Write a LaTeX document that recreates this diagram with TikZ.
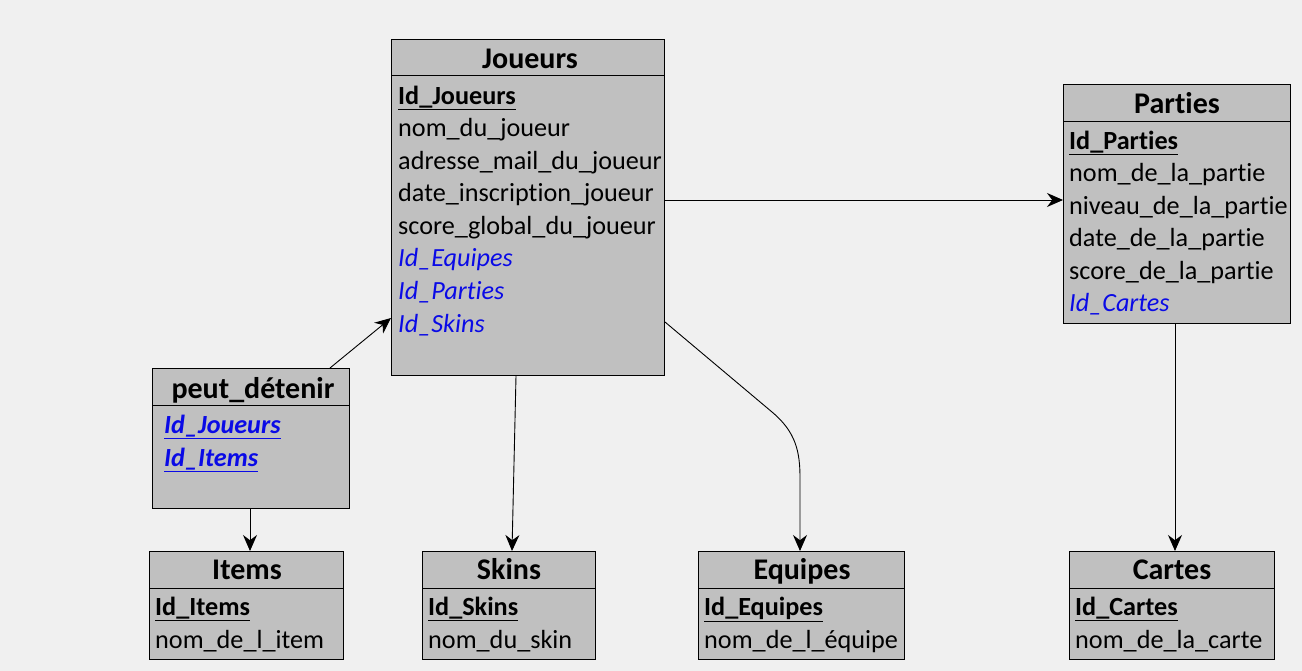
\documentclass[tikz,border=0pt]{standalone}
\usepackage{fontspec}
\setmainfont[Ligatures={NoCommon,NoRare},RawFeature={-liga;-clig;-dlig}]{Carlito}
\usetikzlibrary{arrows.meta}
\definecolor{bg}{HTML}{F0F0F0}
\definecolor{boxfill}{HTML}{C0C0C0}
\definecolor{fkblue}{RGB}{10,10,230}
\tikzset{
  box/.style={draw=black, fill=boxfill, line width=1pt, inner sep=0pt, anchor=north west},
  divider/.style={draw=black, line width=1pt},
  ttl/.style={anchor=base, inner sep=0pt, font=\fontsize{30}{34}\selectfont\bfseries},
  attr/.style={anchor=base west, inner sep=0pt, font=\fontsize{26.2}{30}\selectfont},
  pk/.style={attr, font=\fontsize{26.2}{30}\selectfont\bfseries},
  fk/.style={attr, text=fkblue, font=\fontsize{26.2}{30}\selectfont\itshape},
  pfk/.style={attr, text=fkblue, font=\fontsize{26.2}{30}\selectfont\bfseries\itshape},
  conn/.style={draw=black, line width=0.9pt, -{Stealth[length=16pt,width=14pt]}}
}
\begin{document}
\begin{tikzpicture}[x=1pt,y=-1pt]
\fill[bg] (0,0) rectangle (1302,671);
\useasboundingbox (0,0) rectangle (1302,671);

% Joueurs
\node[box, minimum width=273pt, minimum height=336pt] (joueurs) at (391,39) {};
\draw[divider] (391,76) -- (664,76);
\node[ttl] (tJ) at (530,68.5) {Joueurs};
\node[pk] (j1) at (398,104.5) {\underline{Id\_Joueurs}};
\node[attr] (j2) at (398,137) {nom\_du\_joueur};
\node[attr] (j3) at (398,169.5) {adresse\_mail\_du\_joueur};
\node[attr] (j4) at (398,202) {date\_inscription\_joueur};
\node[attr] (j5) at (398,234.5) {score\_global\_du\_joueur};
\node[fk] (j6) at (398,267) {Id\_Equipes};
\node[fk] (j7) at (398,299.5) {Id\_Parties};
\node[fk] (j8) at (398,332) {Id\_Skins};

% Parties
\node[box, minimum width=227pt, minimum height=239pt] (parties) at (1063,84) {};
\draw[divider] (1063,122) -- (1290,122);
\node[ttl] (tP) at (1177,113.5) {Parties};
\node[pk] (p1) at (1069,149.5) {\underline{Id\_Parties}};
\node[attr] (p2) at (1069,182) {nom\_de\_la\_partie};
\node[attr] (p3) at (1069,214.5) {niveau\_de\_la\_partie};
\node[attr] (p4) at (1069,247) {date\_de\_la\_partie};
\node[attr] (p5) at (1069,279.5) {score\_de\_la\_partie};
\node[fk] (p6) at (1069,312) {Id\_Cartes};

% peut_detenir
\node[box, minimum width=197pt, minimum height=140pt] (peut) at (152,368) {};
\draw[divider] (152,405) -- (349,405);
\node[ttl] (tD) at (253,398.5) {peut\_détenir};
\node[pfk] (d1) at (164,433.5) {\underline{Id\_Joueurs}};
\node[pfk] (d2) at (164,466) {\underline{Id\_Items}};

% Items
\node[box, minimum width=194pt, minimum height=108pt] (items) at (149,551) {};
\draw[divider] (149,588) -- (343,588);
\node[ttl] (tI) at (247,579.5) {Items};
\node[pk] (i1) at (155,615.5) {\underline{Id\_Items}};
\node[attr] (i2) at (155,648.5) {nom\_de\_l\_item};

% Skins
\node[box, minimum width=173pt, minimum height=108pt] (skins) at (422,551) {};
\draw[divider] (422,588) -- (595,588);
\node[ttl] (tS) at (509,579.5) {Skins};
\node[pk] (s1) at (428,615.5) {\underline{Id\_Skins}};
\node[attr] (s2) at (428,648.5) {nom\_du\_skin};

% Equipes
\node[box, minimum width=206pt, minimum height=108pt] (equipes) at (698,551) {};
\draw[divider] (698,588) -- (904,588);
\node[ttl] (tE) at (802,579.5) {Equipes};
\node[pk] (e1) at (704,615.5) {\underline{Id\_Equipes}};
\node[attr] (e2) at (704,648.5) {nom\_de\_l\_équipe};

% Cartes
\node[box, minimum width=205pt, minimum height=108pt] (cartes) at (1069,551) {};
\draw[divider] (1069,588) -- (1274,588);
\node[ttl] (tC) at (1172,579.5) {Cartes};
\node[pk] (c1) at (1075,615.5) {\underline{Id\_Cartes}};
\node[attr] (c2) at (1075,648.5) {nom\_de\_la\_carte};

% connectors
\draw[conn] (joueurs.east |- 0,200) -- (parties.west |- 0,200);
\draw[conn] (peut.north -| 330,0) -- (joueurs.west |- 0,318);
\draw[conn] (peut.south -| 250,0) -- (items.north -| 250,0);
\draw[conn] (joueurs.south -| 516,0) -- (skins.north -| 512,0);
\draw[conn] (joueurs.east |- 0,322) -- (772,412) .. controls (796,432) and (800,452) .. (800,478) -- (equipes.north -| 800,0);
\draw[conn] (parties.south -| 1175,0) -- (cartes.north -| 1175,0);
\end{tikzpicture}
\end{document}
